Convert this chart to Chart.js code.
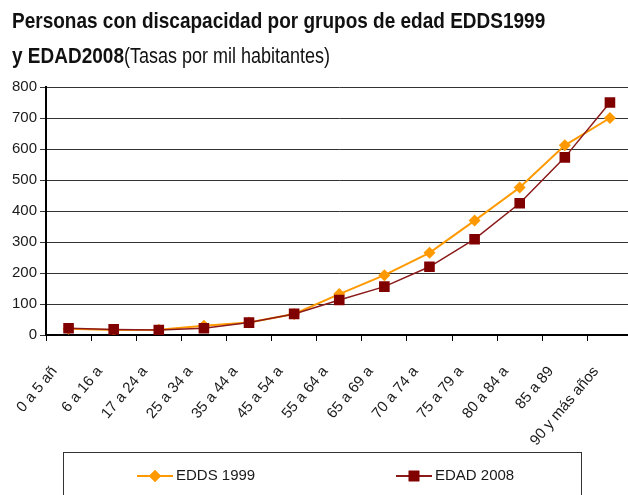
<!DOCTYPE html>
<html>
<head>
<meta charset="utf-8">
<script src="https://cdn.jsdelivr.net/npm/chart.js@4/dist/chart.umd.min.js"></script>
<style>
    html, body { margin: 0; padding: 0; background: #fff; overflow: hidden; width: 628px; height: 495px; }
    #wrap { position: relative; width: 628px; height: 495px; overflow: hidden; }
    #ctx-disc { position: absolute; left: 0; top: 0; }
    .title { position: absolute; left: 12px; font-family: "Liberation Sans", Arial, sans-serif; color: #111;
             white-space: nowrap; transform: scaleY(1.18); transform-origin: top left; }
    .title b { font-size: 19px; }
    .title span { font-size: 18px; font-weight: normal; }
</style>
</head>
<body>
<div id="wrap">
    <canvas id="ctx-disc" width="640" height="495"></canvas>
    <div class="title" style="top: 8px;"><b>Personas con discapacidad por grupos de edad EDDS1999</b></div>
    <div class="title" style="top: 43px;"><b>y EDAD2008</b><span>(Tasas por mil habitantes)</span></div>
</div>
<script>
// grupos de edad (etiquetas cortadas como en el original)
const labels = ['0 a 5 añ', '6 a 16 a', '17 a 24 a', '25 a 34 a', '35 a 44 a', '45 a 54 a', '55 a 64 a',
    '65 a 69 a', '70 a 74 a', '75 a 79 a', '80 a 84 a', '85 a 89', '90 y más años'];
const edds1999 = [20, 16, 17, 30, 40, 68, 132, 193, 265, 369, 476, 612, 700];
const edad2008 = [22, 18, 16, 22, 40, 68, 113, 156, 220, 309, 425, 573, 750];
const seriesNames = ['EDDS 1999', 'EDAD 2008'];

const colors = ['#FF9900', '#800000'];

// leyenda dibujada a mano: caja con linea + marcador
const boxLegend = {
    id: 'boxLegend',
    afterDraw(chart) {
        const c = chart.ctx;
        c.save();
        c.strokeStyle = '#333';
        c.lineWidth = 1;
        c.strokeRect(63.5, 452.5, 518, 60);
        const items = [
            { x: 137, name: seriesNames[0], color: colors[0], line: colors[0], style: 'rectRot', r: 6 },
            { x: 396, name: seriesNames[1], color: colors[1], line: '#8B1A1A', style: 'rect', r: 7.5 }
        ];
        const y = 476;
        items.forEach((it) => {
            c.strokeStyle = it.line;
            c.lineWidth = 2;
            c.beginPath();
            c.moveTo(it.x, y);
            c.lineTo(it.x + 36, y);
            c.stroke();
            c.fillStyle = it.color;
            Chart.helpers.drawPoint(c, { pointStyle: it.style, radius: it.r, borderWidth: 0 }, it.x + 18, y);
            c.fill();
            c.fillStyle = '#1a1a1a';
            c.font = '15px "Liberation Sans", Arial, sans-serif';
            c.textBaseline = 'middle';
            c.fillText(it.name, it.x + 39, y);
        });
        c.restore();
    }
};

const ctx = document.getElementById('ctx-disc');
const chart = new Chart(ctx, {
    type: 'line',
    data: {
        labels: labels,
        datasets: [
            {
                label: seriesNames[0],
                data: edds1999,
                borderColor: colors[0],
                backgroundColor: colors[0],
                borderWidth: 2,
                pointStyle: 'rectRot',
                pointRadius: 6,
                pointBorderWidth: 0,
                order: 1
            },
            {
                label: seriesNames[1],
                data: edad2008,
                borderColor: '#8B1A1A',
                backgroundColor: colors[1],
                borderWidth: 1.5,
                pointStyle: 'rect',
                pointRadius: 7.5,
                pointBorderWidth: 0,
                order: 0
            }
        ]
    },
    options: {
        responsive: false,
        animation: false,
        layout: { padding: { top: 87, left: 0, right: 0, bottom: 0 } },
        plugins: {
            legend: { display: false },
            tooltip: { enabled: false }
        },
        scales: {
            x: {
                offset: true,
                afterFit: (s) => { s.height = 160; s.paddingLeft = 0; s.paddingRight = 0; },
                grid: { drawOnChartArea: false, drawTicks: true, tickLength: 6, color: '#000', offset: true },
                border: { color: '#000', width: 2 },
                ticks: {
                    autoSkip: false,
                    maxRotation: 50,
                    minRotation: 50,
                    padding: 22,
                    labelOffset: -14,
                    color: '#1a1a1a',
                    font: { family: '"Liberation Sans", Arial, sans-serif', size: 15 }
                }
            },
            y: {
                min: 0,
                max: 800,
                afterFit: (s) => { s.width = 46; s.paddingTop = 0; s.paddingBottom = 0; },
                grid: { color: '#333', lineWidth: 1, tickLength: 6, drawTicks: true },
                border: { color: '#000', width: 2 },
                ticks: {
                    stepSize: 100,
                    padding: 3,
                    color: '#1a1a1a',
                    font: { family: '"Liberation Sans", Arial, sans-serif', size: 15 }
                }
            }
        }
    },
    plugins: [boxLegend]
});
</script>
</body>
</html>
